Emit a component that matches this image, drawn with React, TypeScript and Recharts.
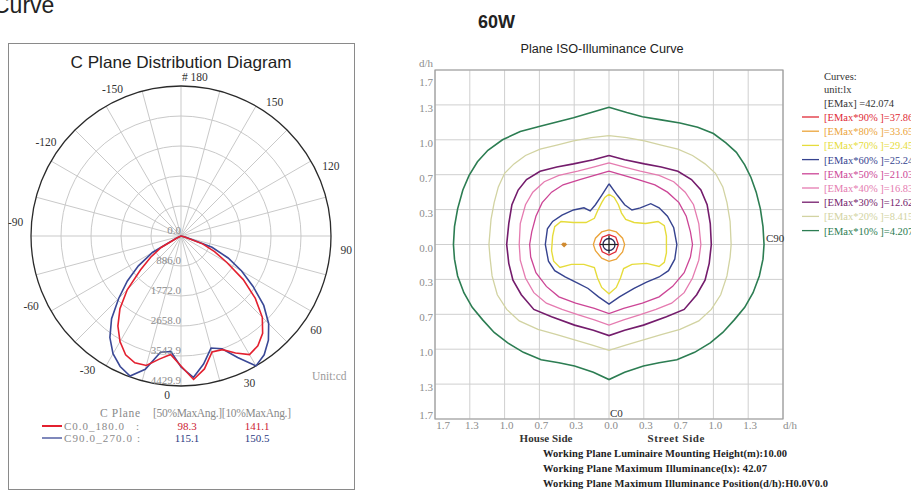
import React from 'react';
import {
  RadarChart,
  PolarGrid,
  PolarAngleAxis,
  PolarRadiusAxis,
  Radar,
  LineChart,
  Line,
  XAxis,
  YAxis,
  CartesianGrid,
  ReferenceArea,
  ReferenceDot,
} from 'recharts';

// ---------- C plane distribution (cd), gamma angle from nadir, 5° steps ----------
const ANGLES = [
  0, 5, 10, 15, 20, 25, 30, 35, 40, 45, 50, 55, 60, 65, 70, 75, 80, 85, 90,
  95, 100, 105, 110, 115, 120, 125, 130, 135, 140, 145, 150, 155, 160, 165, 170, 175,
  180, 185, 190, 195, 200, 205, 210, 215, 220, 225, 230, 235, 240, 245, 250, 255, 260, 265,
  270, 275, 280, 285, 290, 295, 300, 305, 310, 315, 320, 325, 330, 335, 340, 345, 350, 355,
];

const C0_180 = [
  4253, 3987, 3544, 3573, 3810, 4046, 3957, 3751, 3396, 2865, 2245, 1565, 1093, 679, 89, 0, 0, 0, 0,
  0, 0, 0, 0, 0, 0, 0, 0, 0, 0, 0, 0, 0, 0, 0, 0, 0,
  0, 0, 0, 0, 0, 0, 0, 0, 0, 0, 0, 0, 0, 0, 0, 0, 0, 0,
  0, 0, 0, 0, 89, 679, 1093, 1565, 2245, 2806, 3249, 3603, 3869, 3987, 3957, 3692, 3514, 3839,
];

const C90_270 = [
  4194, 3839, 3426, 3544, 3957, 4429, 4282, 4016, 3662, 3190, 2599, 2067, 1536, 975, 148, 0, 0, 0, 0,
  0, 0, 0, 0, 0, 0, 0, 0, 0, 0, 0, 0, 0, 0, 0, 0, 0,
  0, 0, 0, 0, 0, 0, 0, 0, 0, 0, 0, 0, 0, 0, 0, 0, 0, 0,
  0, 0, 0, 0, 148, 975, 1536, 2067, 2599, 3190, 3662, 4016, 4252, 4400, 4075, 3485, 3426, 3869,
];

const RADIUS_TICKS = [0, 886.0, 1772.0, 2658.0, 3543.9, 4429.9];

// ---------- iso-illuminance contours, (d/h, d/h) ----------
const DH_TICKS = [-5 / 3, -4 / 3, -1, -2 / 3, -1 / 3, 0, 1 / 3, 2 / 3, 1, 4 / 3, 5 / 3];

const ISO_10 = [
  [0, 1.31], [0.17, 1.26], [0.32, 1.22], [0.5, 1.19], [0.68, 1.16], [0.85, 1.12], [1.0, 1.06],
  [1.12, 0.97], [1.22, 0.88], [1.3, 0.76], [1.36, 0.64], [1.41, 0.5], [1.45, 0.34], [1.475, 0.17],
  [1.485, 0], [1.475, -0.14], [1.44, -0.3], [1.38, -0.46], [1.3, -0.6], [1.2, -0.72], [1.09, -0.84],
  [0.97, -0.94], [0.82, -1.03], [0.65, -1.1], [0.48, -1.13], [0.33, -1.16], [0.15, -1.22], [0, -1.29],
  [-0.15, -1.22], [-0.33, -1.16], [-0.48, -1.13], [-0.65, -1.1], [-0.82, -1.03], [-0.97, -0.94],
  [-1.1, -0.84], [-1.21, -0.72], [-1.31, -0.6], [-1.39, -0.46], [-1.45, -0.3], [-1.48, -0.14],
  [-1.49, 0], [-1.48, 0.17], [-1.45, 0.34], [-1.4, 0.52], [-1.34, 0.66], [-1.26, 0.79], [-1.16, 0.9],
  [-1.02, 1.0], [-0.85, 1.08], [-0.66, 1.13], [-0.5, 1.17], [-0.34, 1.21], [-0.17, 1.26], [0, 1.31],
];

const ISO_20 = [
  [0, 1.04], [0.17, 1.02], [0.34, 0.99], [0.5, 0.95], [0.66, 0.91], [0.8, 0.85], [0.92, 0.77],
  [1.02, 0.68], [1.09, 0.55], [1.13, 0.4], [1.16, 0.22], [1.17, 0], [1.16, -0.12], [1.13, -0.3],
  [1.07, -0.48], [0.98, -0.62], [0.86, -0.73], [0.68, -0.81], [0.5, -0.86], [0.33, -0.91],
  [0.16, -0.96], [0, -1.01], [-0.16, -0.96], [-0.33, -0.91], [-0.5, -0.86], [-0.68, -0.81],
  [-0.86, -0.73], [-0.98, -0.62], [-1.07, -0.48], [-1.12, -0.3], [-1.14, -0.12], [-1.15, 0],
  [-1.13, 0.24], [-1.1, 0.4], [-1.06, 0.55], [-1.0, 0.68], [-0.91, 0.77], [-0.8, 0.85],
  [-0.66, 0.91], [-0.5, 0.95], [-0.34, 0.99], [-0.17, 1.02], [0, 1.04],
];

const ISO_30 = [
  [0, 0.85], [0.15, 0.81], [0.34, 0.77], [0.5, 0.74], [0.66, 0.7], [0.79, 0.62], [0.88, 0.52],
  [0.94, 0.38], [0.97, 0.2], [0.98, 0], [0.96, -0.18], [0.92, -0.34], [0.84, -0.48], [0.72, -0.62],
  [0.55, -0.69], [0.33, -0.77], [0.15, -0.82], [0, -0.87], [-0.15, -0.82], [-0.33, -0.77],
  [-0.55, -0.69], [-0.72, -0.62], [-0.84, -0.48], [-0.92, -0.34], [-0.96, -0.18], [-0.98, 0],
  [-0.96, 0.2], [-0.93, 0.38], [-0.87, 0.52], [-0.79, 0.62], [-0.66, 0.7], [-0.5, 0.74],
  [-0.34, 0.77], [-0.15, 0.81], [0, 0.85],
];

const ISO_40 = [
  [0, 0.78], [0.15, 0.74], [0.3, 0.7], [0.48, 0.66], [0.62, 0.6], [0.73, 0.5], [0.81, 0.38],
  [0.86, 0.2], [0.88, 0], [0.86, -0.15], [0.8, -0.32], [0.72, -0.46], [0.6, -0.56], [0.45, -0.62],
  [0.3, -0.67], [0.14, -0.72], [0, -0.77], [-0.14, -0.72], [-0.3, -0.67], [-0.45, -0.62],
  [-0.6, -0.56], [-0.72, -0.46], [-0.8, -0.32], [-0.85, -0.15], [-0.86, 0], [-0.85, 0.2],
  [-0.8, 0.38], [-0.73, 0.5], [-0.62, 0.6], [-0.48, 0.66], [-0.3, 0.7], [-0.15, 0.74], [0, 0.78],
];

const ISO_50 = [
  [0, 0.7], [0.14, 0.66], [0.28, 0.62], [0.44, 0.57], [0.56, 0.5], [0.67, 0.4], [0.74, 0.27],
  [0.78, 0.12], [0.8, 0], [0.78, -0.12], [0.72, -0.27], [0.61, -0.4], [0.48, -0.5], [0.32, -0.56],
  [0.14, -0.61], [0, -0.66], [-0.14, -0.61], [-0.32, -0.56], [-0.48, -0.5], [-0.6, -0.4],
  [-0.7, -0.27], [-0.75, -0.12], [-0.76, 0], [-0.74, 0.12], [-0.7, 0.27], [-0.64, 0.4],
  [-0.55, 0.5], [-0.44, 0.57], [-0.28, 0.62], [-0.14, 0.66], [0, 0.7],
];

const ISO_60 = [
  [0, 0.58], [0.08, 0.47], [0.15, 0.38], [0.22, 0.33], [0.3, 0.35], [0.4, 0.39], [0.48, 0.35],
  [0.56, 0.27], [0.62, 0.16], [0.65, 0], [0.63, -0.14], [0.57, -0.25], [0.48, -0.31], [0.36, -0.36],
  [0.24, -0.42], [0.1, -0.5], [0, -0.57], [-0.1, -0.5], [-0.2, -0.42], [-0.3, -0.37], [-0.42, -0.31],
  [-0.52, -0.25], [-0.58, -0.16], [-0.61, 0], [-0.59, 0.15], [-0.54, 0.22], [-0.45, 0.28],
  [-0.34, 0.33], [-0.24, 0.35], [-0.18, 0.32], [-0.13, 0.38], [-0.07, 0.47], [0, 0.58],
];

const ISO_70 = [
  [0, 0.48], [0.05, 0.45], [0.09, 0.38], [0.12, 0.3], [0.16, 0.24], [0.24, 0.21], [0.35, 0.2],
  [0.47, 0.22], [0.53, 0.18], [0.55, 0.08], [0.55, -0.08], [0.53, -0.17], [0.48, -0.21],
  [0.36, -0.18], [0.22, -0.19], [0.14, -0.23], [0.11, -0.32], [0.07, -0.41], [0, -0.47],
  [-0.07, -0.41], [-0.11, -0.32], [-0.14, -0.22], [-0.24, -0.19], [-0.36, -0.19], [-0.47, -0.22],
  [-0.53, -0.16], [-0.55, -0.06], [-0.54, 0.08], [-0.52, 0.17], [-0.46, 0.22], [-0.34, 0.21],
  [-0.22, 0.21], [-0.14, 0.25], [-0.11, 0.32], [-0.07, 0.4], [-0.04, 0.45], [0, 0.48],
];

const ISO_80 = [
  [0, 0.14], [0.07, 0.12], [0.13, 0.06], [0.15, 0], [0.13, -0.07], [0.07, -0.14], [0, -0.16],
  [-0.07, -0.13], [-0.13, -0.06], [-0.15, 0], [-0.13, 0.06], [-0.07, 0.12], [0, 0.14],
];

const ISO_80_SPOT = [[-0.43, 0.012], [-0.418, 0], [-0.43, -0.012], [-0.442, 0], [-0.43, 0.012]];

const ISO_90 = [
  [0, 0.095], [0.065, 0.07], [0.09, 0], [0.065, -0.07], [0, -0.1], [-0.065, -0.07], [-0.09, 0],
  [-0.065, 0.07], [0, 0.095],
];

const MAX_POS = [0, 0];

const LEGEND_PCT = ['90', '80', '70', '60', '50', '40', '30', '20', '10'];
const LEGEND_LX = ['37.867', '33.659', '29.452', '25.244', '21.037', '16.830', '12.622', '8.415', '4.207'];
const LEGEND_COLORS = ['#e02a36', '#eba43a', '#e6dc3c', '#36438f', '#cc4596', '#e57bb0', '#741c6c', '#d2d3a2', '#2c7d52'];

const CONTOURS = [
  { key: '10', pts: ISO_10, color: '#2c7d52', w: 1.6 },
  { key: '20', pts: ISO_20, color: '#d2d3a2', w: 1.3 },
  { key: '30', pts: ISO_30, color: '#741c6c', w: 1.6 },
  { key: '40', pts: ISO_40, color: '#e57bb0', w: 1.3 },
  { key: '50', pts: ISO_50, color: '#cc4596', w: 1.3 },
  { key: '60', pts: ISO_60, color: '#36438f', w: 1.4 },
  { key: '70', pts: ISO_70, color: '#e6dc3c', w: 1.4 },
  { key: '80', pts: ISO_80, color: '#eba43a', w: 1.3 },
  { key: '80s', pts: ISO_80_SPOT, color: '#d08a30', w: 2.5 },
  { key: '90', pts: ISO_90, color: '#e02a36', w: 1.3 },
];

const SERIF = '"Liberation Serif", "DejaVu Serif", serif';
const SANS = '"Liberation Sans", Arial, sans-serif';

// polar layout
const CX = 181;
const CY = 236;
const R = 150;
const SPOKES = Array.from({ length: 24 }, (_, i) => -90 + i * 15);

const polarData = ANGLES.map((a, i) => ({ angle: a, c0: C0_180[i], c90: C90_270[i] }));

const AngleTick = (props: any) => {
  const { x, y, payload } = props;
  const a = Number(payload.value);
  if (a % 30 !== 0) return null;
  const dx = x - CX;
  const dy = y - CY;
  const d = Math.hypot(dx, dy) || 1;
  const ux = dx / d;
  const uy = dy / d;
  const r = 159 + 7 * Math.abs(ux);
  const label = a === 180 ? '# 180' : String(a > 180 ? a - 360 : a);
  return (
    <text
      x={CX + ux * r}
      y={CY + uy * r}
      textAnchor="middle"
      dominantBaseline="central"
      fontFamily={SERIF}
      fontSize={11.5}
      fill="#333"
    >
      {label}
    </text>
  );
};

const RadiusTick = (props: any) => {
  const { x, y, payload } = props;
  return (
    <text x={x} y={y - 2} textAnchor="end" fontFamily={SERIF} fontSize={11} fill="#8c8c8c">
      {Number(payload.value).toFixed(1)}
    </text>
  );
};

const XTick = (props: any) => {
  const { x, y, payload } = props;
  const v = Number(payload.value);
  let label = Math.abs(v).toFixed(1);
  let dx = 2;
  if (v > 1.6) {
    label = 'd/h';
    dx = 7;
  } else if (v < -1.6) {
    dx = 8;
  }
  return (
    <text x={x + dx} y={y - 2} textAnchor="middle" dominantBaseline="central" fontFamily={SERIF} fontSize={11} fill="#8c8c8c">
      {label}
    </text>
  );
};

const YTick = (props: any) => {
  const { x, y, payload } = props;
  const v = Number(payload.value);
  const label = Math.abs(v).toFixed(1);
  const common = { textAnchor: 'end' as const, fontFamily: SERIF, fontSize: 11, fill: '#8c8c8c' };
  if (v > 1.6) {
    return (
      <g>
        <text x={x + 6} y={y - 3} {...common}>d/h</text>
        <text x={x + 6} y={y + 16} {...common}>{label}</text>
      </g>
    );
  }
  const dy = v < -1.6 ? 0 : 7;
  return (
    <text x={x + 6} y={y + dy} {...common}>
      {label}
    </text>
  );
};

const MaxMarker = (props: any) => {
  const { cx, cy } = props;
  return (
    <g>
      <circle cx={cx} cy={cy} r={6} fill="none" stroke="#2c2c5c" strokeWidth={1.3} />
      <line x1={cx - 9} y1={cy} x2={cx + 9} y2={cy} stroke="#222" strokeWidth={1.2} />
      <line x1={cx} y1={cy - 9} x2={cx} y2={cy + 9} stroke="#222" strokeWidth={1.2} />
    </g>
  );
};

const PolarDiagram = () => (
  <div style={{ position: 'absolute', left: 0, top: 0 }}>
    <RadarChart width={360} height={420} data={polarData} cx={CX} cy={CY} outerRadius={R} startAngle={-90} endAngle={270} margin={{ top: 0, right: 0, bottom: 0, left: 0 }}>
      <PolarGrid gridType="circle" polarRadius={[30, 60, 90, 120]} polarAngles={SPOKES} stroke="#c9c9c9" />
      <PolarGrid gridType="circle" polarRadius={[R]} polarAngles={[]} stroke="#2a2a2a" strokeWidth={1.3} />
      <PolarAngleAxis dataKey="angle" tick={<AngleTick />} tickLine={false} axisLine={false} />
      <PolarRadiusAxis
        angle={-90}
        type="number"
        domain={[0, 4429.9]}
        ticks={RADIUS_TICKS as any}
        allowDataOverflow
        axisLine={false}
        tickLine={false}
        tick={<RadiusTick />}
      />
      <Radar dataKey="c90" stroke="#3a4896" strokeWidth={1.6} fill="none" fillOpacity={0} dot={false} isAnimationActive={false} />
      <Radar dataKey="c0" stroke="#e3202f" strokeWidth={1.6} fill="none" fillOpacity={0} dot={false} isAnimationActive={false} />
    </RadarChart>
  </div>
);

const IsoDiagram = () => (
  <div style={{ position: 'absolute', left: 400, top: 40 }}>
    <LineChart width={511} height={451} margin={{ top: 30, right: 128, left: 5, bottom: 42 }}>
      <CartesianGrid stroke="#cfcfcf" />
      <XAxis
        type="number"
        dataKey="x"
        domain={[-5 / 3, 5 / 3]}
        ticks={DH_TICKS}
        interval={0}
        allowDataOverflow
        axisLine={false}
        tickLine={false}
        height={30}
        tick={<XTick />}
      />
      <YAxis
        type="number"
        dataKey="y"
        domain={[-5 / 3, 5 / 3]}
        ticks={DH_TICKS}
        interval={0}
        allowDataOverflow
        axisLine={false}
        tickLine={false}
        width={30}
        tick={<YTick />}
      />
      <ReferenceArea x1={-5 / 3} x2={5 / 3} y1={-5 / 3} y2={5 / 3} fill="none" fillOpacity={0} stroke="#9c9c9c" strokeWidth={1.2} />
      {CONTOURS.map((c) => (
        <Line
          key={c.key}
          data={c.pts.map(([x, y]) => ({ x, y }))}
          dataKey="y"
          type="linear"
          stroke={c.color}
          strokeWidth={c.w}
          dot={false}
          activeDot={false}
          isAnimationActive={false}
        />
      ))}
      <ReferenceDot x={MAX_POS[0]} y={MAX_POS[1]} r={6} shape={<MaxMarker />} />
    </LineChart>
  </div>
);

const Overlay = () => (
  <svg width={911} height={491} style={{ position: 'absolute', left: 0, top: 0, pointerEvents: 'none' }}>
    {/* page header */}
    <text x={-7} y={13} fontFamily={SANS} fontSize={23} fill="#222">Curve</text>
    <text x={478} y={28} fontFamily={SANS} fontSize={19} fontWeight="bold" fill="#222" textLength={37} lengthAdjust="spacingAndGlyphs">60W</text>

    {/* left panel */}
    <text x={CX} y={68} textAnchor="middle" fontFamily={SANS} fontSize={16.5} fill="#222" textLength={221} lengthAdjust="spacingAndGlyphs">
      C Plane Distribution Diagram
    </text>
    <svg x={300} y={360} width={54} height={30}>
      <text x={12} y={20} fontFamily={SERIF} fontSize={11.5} fill="#9a9a9a">Unit:cd</text>
    </svg>
    <text x={100} y={417} fontFamily={SERIF} fontSize={11.5} fill="#8a8a8a" textLength={40}>C Plane</text>
    <text x={153} y={417} fontFamily={SERIF} fontSize={11.5} fill="#8a8a8a" textLength={138}>[50%MaxAng.][10%MaxAng.]</text>
    <line x1={42} y1={426} x2={62} y2={426} stroke="#e3202f" strokeWidth={2} />
    <text x={64} y={430} fontFamily={SERIF} fontSize={11} fill="#8a8a8a" textLength={60}>C0.0_180.0</text>
    <text x={136} y={430} fontFamily={SERIF} fontSize={11} fill="#8a8a8a">:</text>
    <text x={187} y={430} textAnchor="middle" fontFamily={SERIF} fontSize={11} fill="#cc2233">98.3</text>
    <text x={257} y={430} textAnchor="middle" fontFamily={SERIF} fontSize={11} fill="#cc2233">141.1</text>
    <line x1={42} y1={438} x2={62} y2={438} stroke="#3a4896" strokeWidth={1.3} />
    <text x={64} y={442} fontFamily={SERIF} fontSize={11} fill="#8a8a8a" textLength={76}>C90.0_270.0 :</text>
    <text x={187} y={442} textAnchor="middle" fontFamily={SERIF} fontSize={11} fill="#2b3a80">115.1</text>
    <text x={257} y={442} textAnchor="middle" fontFamily={SERIF} fontSize={11} fill="#2b3a80">150.5</text>

    {/* right panel */}
    <text x={602} y={53} textAnchor="middle" fontFamily={SANS} fontSize={12} fill="#222" textLength={163} lengthAdjust="spacingAndGlyphs">
      Plane ISO-Illuminance Curve
    </text>
    <text x={766} y={242} fontFamily={SERIF} fontSize={11} fill="#333">C90</text>
    <text x={610} y={417} fontFamily={SERIF} fontSize={11} fill="#333">C0</text>
    <text x={546} y={442} textAnchor="middle" fontFamily={SERIF} fontSize={11} fontWeight="bold" fill="#333" textLength={53}>House Side</text>
    <text x={676} y={442} textAnchor="middle" fontFamily={SERIF} fontSize={11} fontWeight="bold" fill="#333" textLength={57}>Street Side</text>
    <text x={543} y={457} fontFamily={SERIF} fontSize={10.5} fontWeight="bold" fill="#222" textLength={244}>
      Working Plane Luminaire Mounting Height(m):10.00
    </text>
    <text x={543} y={472} fontFamily={SERIF} fontSize={10.5} fontWeight="bold" fill="#222" textLength={224}>
      Working Plane Maximum Illuminance(lx): 42.07
    </text>
    <text x={543} y={487} fontFamily={SERIF} fontSize={10.5} fontWeight="bold" fill="#222" textLength={285}>
      Working Plane Maximum Illuminance Position(d/h):H0.0V0.0
    </text>

    {/* curves legend */}
    <text x={824} y={80} fontFamily={SERIF} fontSize={10.5} fill="#333">Curves:</text>
    <text x={824} y={93} fontFamily={SERIF} fontSize={10.5} fill="#333">unit:lx</text>
    <text x={824} y={107} fontFamily={SERIF} fontSize={10.5} fill="#333">[EMax]  =42.074</text>
    {LEGEND_PCT.map((p, i) => (
      <g key={p}>
        <line x1={802} y1={117 + i * 14.2} x2={819} y2={117 + i * 14.2} stroke={LEGEND_COLORS[i]} strokeWidth={1.3} />
        <text x={824} y={121 + i * 14.2} fontFamily={SERIF} fontSize={10.5} fill={LEGEND_COLORS[i]}>
          {`[EMax*${p}% ]=${LEGEND_LX[i]}`}
        </text>
      </g>
    ))}
  </svg>
);

export default function App() {
  return (
    <div style={{ position: 'relative', width: 911, height: 491, overflow: 'hidden', background: '#fff' }}>
      <style>{'body{margin:0}'}</style>
      <div style={{ position: 'absolute', left: 8, top: 43, width: 345, height: 445, border: '1.5px solid #8a8a8a' }} />
      <PolarDiagram />
      <IsoDiagram />
      <Overlay />
    </div>
  );
}
